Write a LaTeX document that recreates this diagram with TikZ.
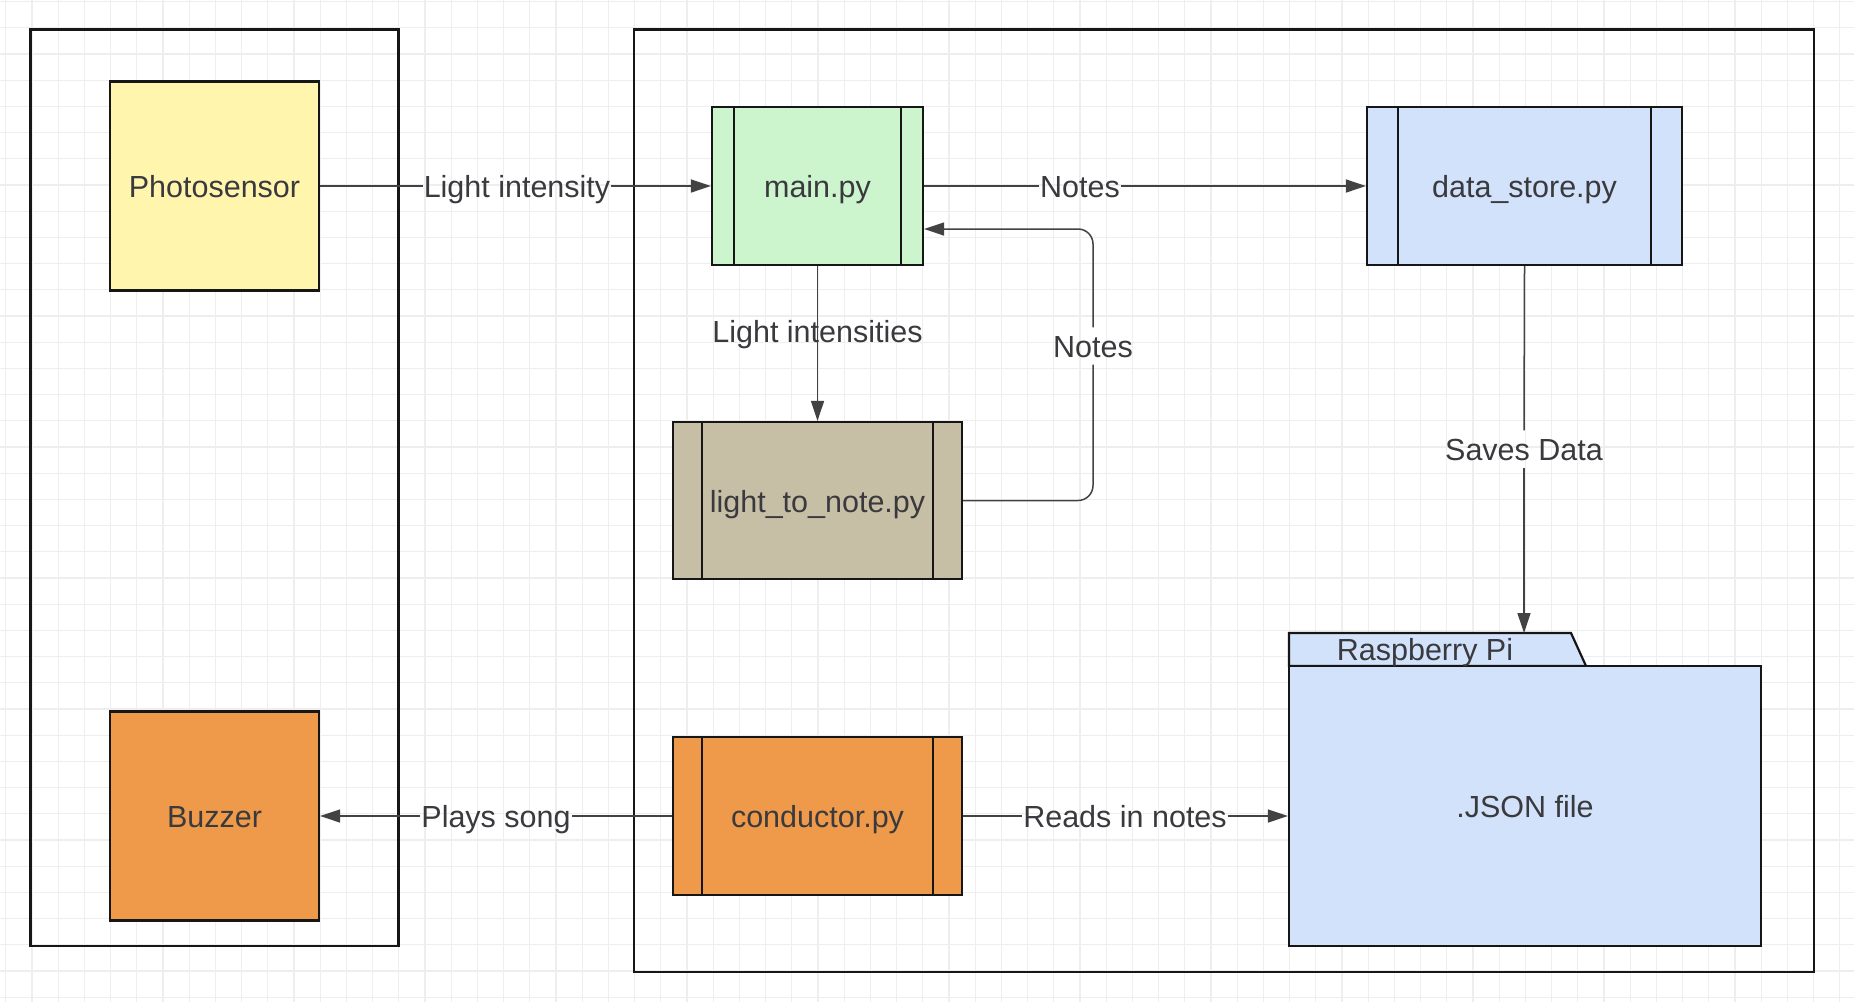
\documentclass[tikz,border=0pt]{standalone}
\usepackage{fontspec}
\setmainfont{Liberation Sans}
\usetikzlibrary{arrows.meta,calc}
\definecolor{gridc}{RGB}{238,238,238}
\definecolor{txt}{RGB}{58,58,62}
\definecolor{edgec}{RGB}{66,66,66}
\definecolor{bord}{RGB}{22,22,22}
\definecolor{cyellow}{RGB}{255,245,173}
\definecolor{cgreen}{RGB}{204,245,206}
\definecolor{cblue}{RGB}{210,226,250}
\definecolor{ctan}{RGB}{199,191,165}
\definecolor{corange}{RGB}{238,154,74}
\newcommand{\dfont}{\fontsize{30.5}{36}\selectfont}
\begin{document}
\begin{tikzpicture}[x=1pt,y=-1pt,
  container/.style={rectangle, draw=bord, line width=2.6pt, inner sep=0pt},
  box/.style={rectangle, draw=bord, line width=2.2pt, inner sep=0pt, text=txt,
    font=\dfont, text height=23pt, text depth=0pt},
  process/.style={box, path picture={
    \draw[bord, line width=2.2pt]
      ([xshift=#1]path picture bounding box.north west) -- ([xshift=#1]path picture bounding box.south west)
      ([xshift=-#1]path picture bounding box.north east) -- ([xshift=-#1]path picture bounding box.south east);}},
  lbl/.style={text=txt, font=\dfont, inner xsep=1pt, inner ysep=7pt, text height=23pt, text depth=0pt},
  conn/.style={draw=edgec, line width=1.5pt},
  arr/.style={conn, -{Triangle[length=20pt,width=13pt]}}
]
\useasboundingbox (0,0) rectangle (1854,1002);
\fill[white] (0,0) rectangle (1854,1002);
% grid
\foreach \i in {0,...,70} \draw[gridc, line width=1.3pt] ({5.8+26.2*\i},0) -- ++(0,1002);
\foreach \j in {0,...,38} \draw[gridc, line width=1.3pt] (0,{1.6+26.2*\j}) -- ++(1854,0);

% containers
\node[container, minimum width=367.8pt, minimum height=916.4pt] (leftc) at (214.6,487.8) {};
\node[container, minimum width=1180pt, minimum height=942.4pt] (rightc) at (1224,500.8) {};

% blocks
\node[box, fill=cyellow, minimum width=209pt, minimum height=209pt] (photo) at (214.5,186) {Photosensor};
\node[box, fill=corange, minimum width=209pt, minimum height=209pt] (buzzer) at (214.5,816) {Buzzer};
\node[process=22pt, fill=cgreen, minimum width=211pt, minimum height=158pt] (main) at (817.5,186) {main.py};
\node[process=31pt, fill=cblue, minimum width=315pt, minimum height=158pt] (data) at (1524.5,186) {data\_store.py};
\node[process=29pt, fill=ctan, minimum width=289pt, minimum height=157pt] (l2n) at (817.5,500.5) {light\_to\_note.py};
\node[process=29pt, fill=corange, minimum width=289pt, minimum height=158pt] (cond) at (817.5,816) {conductor.py};

% folder
\draw[draw=bord, fill=cblue, line width=2.2pt, line join=miter] (1289,666) -- (1289,633) -- (1571,633) -- (1586,666) -- cycle;
\coordinate (tabtop) at (1523,633);
\node[box, fill=cblue, minimum width=472pt, minimum height=280pt] (folder) at (1525,806) {.JSON file};
\node[lbl, inner sep=0pt] (tablbl) at (1425,648.5) {Raspberry Pi};

% labels
\node[lbl] (li1) at (517,186) {Light intensity};
\node[lbl] (n1) at (1080,186) {Notes};
\node[lbl] (li2) at (817.5,331) {Light intensities};
\node[lbl] (n2) at (1093,346) {Notes};
\node[lbl] (sd) at (1524,449) {Saves Data};
\node[lbl] (ps) at (496,816) {Plays song};
\node[lbl] (rn) at (1125,816) {Reads in notes};

% connectors
\draw[conn] (photo.east) -- (li1.west);
\draw[arr] (li1.east) -- (main.west);
\draw[conn] (main.east) -- (n1.west);
\draw[arr] (n1.east) -- (data.west);
\draw[arr] (main.south) -- (l2n.north);
\coordinate (fbin) at ([yshift=-43pt]main.east);
\draw[conn, rounded corners=15pt] (l2n.east) -- (l2n.east -| n2.south) -- (n2.south);
\draw[arr, rounded corners=15pt] (n2.north) |- (fbin);
\draw[conn] (data.south) -- (sd.north);
\draw[arr] (sd.south) -- (sd.south |- tabtop);
\draw[conn] (cond.west) -- (ps.east);
\draw[arr] (ps.west) -- (buzzer.east);
\draw[conn] (cond.east) -- (rn.west);
\draw[arr] (rn.east) -- (folder.west |- rn.east);
\end{tikzpicture}
\end{document}
